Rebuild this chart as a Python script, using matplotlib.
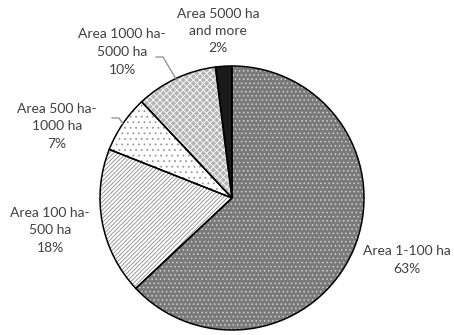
import matplotlib
matplotlib.use("Agg")
import matplotlib.pyplot as plt
import numpy as np

# slice data, clockwise from 12 o'clock
labels = ["Area 1-100 ha", "Area 100 ha-\n500 ha", "Area 500 ha-\n1000 ha",
          "Area 1000 ha-\n5000 ha", "Area 5000 ha\nand more"]
shares = [63, 18, 7, 10, 2]

# look of each slice: (face, hatch, hatch colour)
styles = [("#7a7a7a", "....", "#cfcfcf"),
          ("white", "////////", "#8c8c8c"),
          ("white", "...", "#9a9a9a"),
          ("#b4b4b4", "xxxxx", "#ffffff"),
          ("#1a1a1a", "", "#1a1a1a")]

# label centres in pixels (x, y from top) and whether a leader line is drawn
label_px = [(407, 260), (50, 230), (57, 126), (122, 52), (218, 31)]
leader = [False, False, True, True, False]

W, H = 454, 335
CX, CY, R = 232, 198, 132

plt.rcParams["hatch.linewidth"] = 0.6
plt.rcParams["font.family"] = ["Lato", "DejaVu Sans"]

fig = plt.figure(figsize=(W / 100, H / 100), dpi=100)
ax = fig.add_axes([0, 0, 1, 1])

wedges, _ = ax.pie(shares, startangle=90, counterclock=False, radius=1)
for w, (face, hatch, hcol) in zip(wedges, styles):
    w.set_facecolor(face)
    w.set_hatch(hatch)
    w.set_edgecolor(hcol)
    w.set_linewidth(0)

# outlines on top
outl, _ = ax.pie(shares, startangle=90, counterclock=False, radius=1,
                 wedgeprops=dict(fill=False, edgecolor="black", linewidth=1.1))

ax.set_xlim(-CX / R, (W - CX) / R)
ax.set_ylim(-(H - CY) / R, CY / R)
ax.set_aspect("equal")
ax.axis("off")


def to_data(px, py):
    return (px - CX) / R, (CY - py) / R


for i, (lab, share) in enumerate(zip(labels, shares)):
    x, y = to_data(*label_px[i])
    ax.text(x, y, f"{lab}\n{share}%", ha="center", va="center",
            fontsize=10, color="#404040", linespacing=1.55)
    if leader[i]:
        w = wedges[i]
        mid = np.deg2rad((w.theta1 + w.theta2) / 2)
        ex, ey = np.cos(mid), np.sin(mid)
        # short horizontal tick after the middle text line, then to the edge
        if i == 3:
            sx, sy = to_data(156, 57)
            kx, ky = to_data(163, 57)
        else:
            sx, sy = to_data(112, 118)
            kx, ky = to_data(119, 118)
        ax.plot([sx, kx, ex], [sy, ky, ey], color="#8c8c8c", lw=0.9)

fig.savefig("out.png", dpi=100)
